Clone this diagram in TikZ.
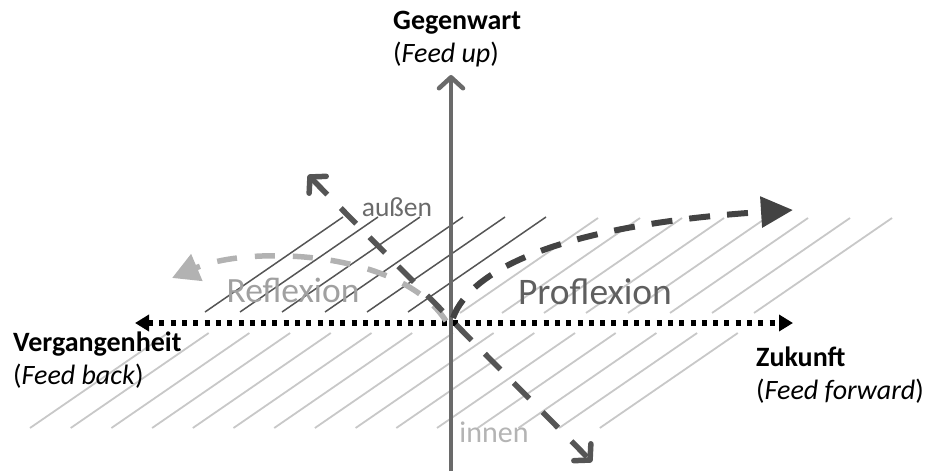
\documentclass[tikz,border=0pt]{standalone}
\usepackage{fontspec}
\setmainfont{Carlito}
\usepackage{tikz}
\usetikzlibrary{arrows.meta}
\usepackage{xcolor}
\definecolor{hatchdk}{HTML}{555555}
\definecolor{hatchlt}{HTML}{C8C8C8}
\definecolor{axisgray}{HTML}{6A6A6A}
\definecolor{inoutgray}{HTML}{555555}
\definecolor{proflgray}{HTML}{434343}
\definecolor{reflgray}{HTML}{B2B2B2}

\begin{document}
\begin{tikzpicture}[x=1pt,y=-1pt,
  hatchdark/.style={draw=hatchdk,line width=1.5pt},
  hatchlight/.style={draw=hatchlt,line width=1.8pt},
  axislabel/.style={align=left,inner sep=0pt,anchor=north west,font=\fontsize{28}{33}\selectfont},
  barb/.tip={Straight Barb[length=11pt,width=24pt,round]}]
\useasboundingbox (0,0) rectangle (928,471);
% hatching, upper part
\foreach \x in {205,240,282,325,367,408}
  \draw[hatchdark] (\x,312) -- ++(138,-95);
\foreach \x in {460,502,...,760}
  \draw[hatchlight] (\x,313) -- ++(138,-95);
% hatching, lower part
\foreach \i in {0,...,14}
  \draw[hatchlight] ({30+40.7*\i},428) -- ++(138,-95);

\coordinate (o) at (451,323);
\coordinate (pastend) at (135,323);
\coordinate (futureend) at (793,323);
\coordinate (nowend) at (451,75);
\coordinate (bottom) at (451,471);
\coordinate (outtip) at (308,175);
\coordinate (intip) at (592,462);

% labels
\node[axislabel] (now) at (393,11) {\textbf{Gegenwart}\\(\textit{Feed up})};
\node[axislabel] (past) at (13,332) {\textbf{Vergangenheit}\\(\textit{Feed back})};
\node[axislabel] (future) at (756,347) {\textbf{Zukunft}\\(\textit{Feed forward})};
\node[text=reflgray!90!black,font=\fontsize{35.5}{38}\selectfont,inner sep=0pt] (refl) at (293,290) {Reflexion};
\node[text=proflgray!85!white,font=\fontsize{37.5}{40}\selectfont,inner sep=0pt] (profl) at (595,292) {Proflexion};
\node[text=axisgray,font=\fontsize{27.5}{30}\selectfont,inner sep=0pt] (out) at (397,207) {außen};
\node[text=hatchlt!90!black,font=\fontsize{30}{32}\selectfont,inner sep=0pt] (in) at (494,432) {innen};

% axes
\draw[black,line width=5.5pt,dash pattern=on 5pt off 6.3pt,
  {Triangle[length=14pt,width=16pt]}-{Triangle[length=14pt,width=16pt]}] (pastend) -- (futureend);
\draw[axisgray,line width=4.5pt,-barb] (bottom) -- (nowend);

% reflexion and proflexion
\draw[reflgray,line width=5.5pt,dash pattern=on 20pt off 18pt,
  -{Triangle[length=27pt,width=28pt]}] (446,321) .. controls (400,250) and (250,245) .. (172,278);
\draw[proflgray,line width=6pt,dash pattern=on 21pt off 17pt,
  -{Triangle[length=32pt,width=30pt]}] (453,318) .. controls (470,270) and (560,225) .. (793,210);

% innen / aussen
\draw[inoutgray,line width=5.5pt,dash pattern=on 22pt off 19pt,barb-barb] (outtip) -- (intip);
\end{tikzpicture}
\end{document}
